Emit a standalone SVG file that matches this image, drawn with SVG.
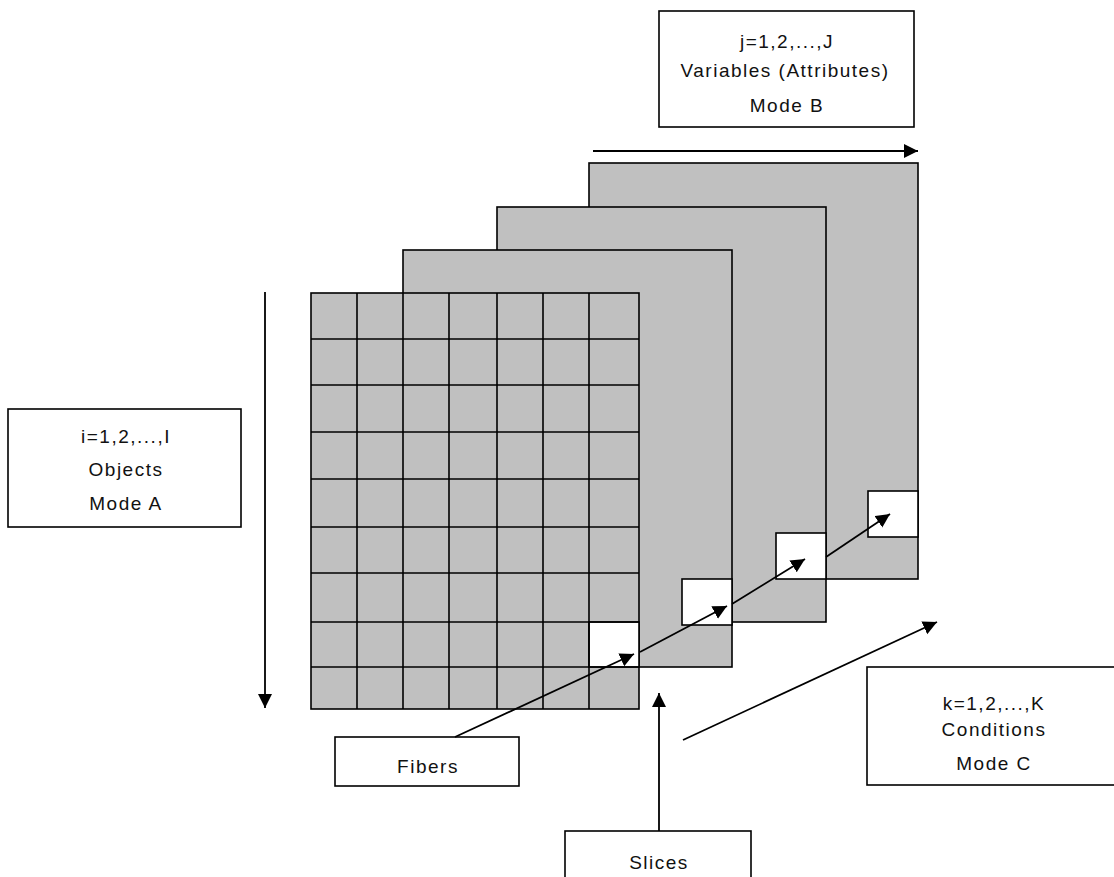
<svg xmlns="http://www.w3.org/2000/svg" width="1114" height="877" viewBox="0 0 1114 877">
<defs>
<style>
.slice{fill:#c0c0c0;stroke:#000;stroke-width:1.6}
.cell{fill:#fff;stroke:#000;stroke-width:1.6}
.grid{stroke:#000;stroke-width:1.6;fill:none}
.box{fill:#fff;stroke:#000;stroke-width:1.6}
.lbl{font-family:"Liberation Sans",Arial,sans-serif;font-size:19px;letter-spacing:1.5px;fill:#111;text-anchor:middle}
.arr{stroke:#000;stroke-width:1.8;fill:none;marker-end:url(#ah)}
</style>
<marker id="ah" markerUnits="userSpaceOnUse" markerWidth="15" markerHeight="15" refX="14" refY="7" orient="auto">
<path d="M0,0 L14,7 L0,14 Z" fill="#000"/>
</marker>
</defs>
<rect width="1114" height="877" fill="#fff"/>

<g id="slice-4">
<rect class="slice" x="589" y="163" width="329" height="416"/>
<rect class="cell" x="868" y="491" width="50" height="46"/>
</g>
<g id="slice-3">
<rect class="slice" x="497" y="207" width="329" height="415"/>
<rect class="cell" x="776" y="533" width="50" height="46"/>
</g>
<g id="slice-2">
<rect class="slice" x="403" y="250" width="329" height="417"/>
<rect class="cell" x="682" y="579" width="50" height="46"/>
</g>
<g id="slice-1">
<rect class="slice" x="311" y="293" width="328" height="416"/>
<rect class="cell" x="589" y="622" width="50" height="45"/>
<path class="grid" d="M357,293V709 M403,293V709 M449,293V709 M497,293V709 M543,293V709 M589,293V709 M311,339H639 M311,385H639 M311,432H639 M311,479H639 M311,527H639 M311,573H639 M311,622H639 M311,667H639"/>
</g>

<g id="box-mode-b">
<rect class="box" x="659" y="11" width="255" height="116"/>
<text class="lbl" x="787" y="48">j=1,2,...,J</text>
<text class="lbl" x="785" y="77">Variables (Attributes)</text>
<text class="lbl" x="787" y="112">Mode B</text>
</g>
<g id="box-mode-a">
<rect class="box" x="8" y="409" width="233" height="118"/>
<text class="lbl" x="126" y="443">i=1,2,...,I</text>
<text class="lbl" x="126" y="476">Objects</text>
<text class="lbl" x="126" y="510">Mode A</text>
</g>
<g id="box-mode-c">
<rect class="box" x="867" y="667" width="254" height="118"/>
<text class="lbl" x="994" y="710">k=1,2,...,K</text>
<text class="lbl" x="994" y="736">Conditions</text>
<text class="lbl" x="994" y="770">Mode C</text>
</g>
<g id="box-fibers">
<rect class="box" x="335" y="737" width="184" height="49"/>
<text class="lbl" x="428" y="773">Fibers</text>
</g>
<g id="box-slices">
<rect class="box" x="565" y="831" width="186" height="60"/>
<text class="lbl" x="659" y="869">Slices</text>
</g>

<g id="connectors">
<line class="arr" x1="265" y1="292" x2="265" y2="708"/>
<line class="arr" x1="593" y1="151" x2="918" y2="151"/>
<line class="arr" x1="455" y1="737" x2="634" y2="654"/>
<line class="arr" x1="640" y1="652" x2="727" y2="606"/>
<line class="arr" x1="732" y1="604" x2="805" y2="559"/>
<line class="arr" x1="826" y1="557" x2="890" y2="514"/>
<line class="arr" x1="683" y1="740" x2="937" y2="622"/>
<line class="arr" x1="659" y1="831" x2="659" y2="693"/>
</g>
</svg>
